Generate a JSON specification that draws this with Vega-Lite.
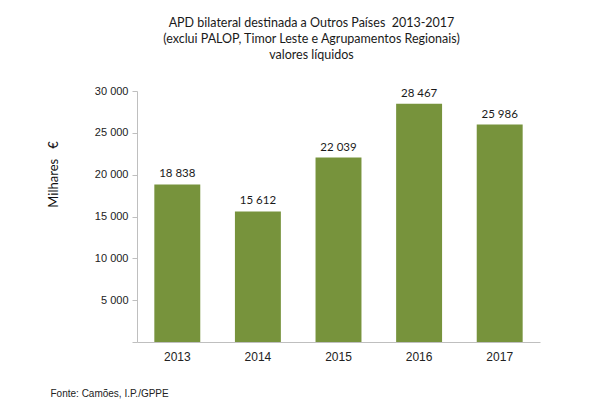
{
  "$schema": "https://vega.github.io/schema/vega-lite/v6.json",
  "width": 403,
  "height": 251,
  "autosize": "none",
  "padding": {"left": 137, "top": 91, "right": 59, "bottom": 77},
  "background": "white",
  "title": {
    "text": ["APD bilateral destinada a Outros Países\u00a0\u00a02013-2017", "(exclui PALOP, Timor Leste e Agrupamentos Regionais)", "valores líquidos"],
    "anchor": "middle",
    "dx": -27,
    "offset": 0,
    "dy": -14,
    "font": "Lato",
    "fontSize": 12.5,
    "fontWeight": "normal",
    "lineHeight": 16,
    "color": "#1a1a1a",
    "baseline": "alphabetic"
  },
  "config": {
    "view": {"stroke": null},
    "locale": {"number": {"decimal": ",", "thousands": " ", "grouping": [3], "currency": ["", " €"]}}
  },
  "data": {
    "values": [
      {"year": "2013", "value": 18838},
      {"year": "2014", "value": 15612},
      {"year": "2015", "value": 22039},
      {"year": "2016", "value": 28467},
      {"year": "2017", "value": 25986}
    ]
  },
  "encoding": {
    "x": {
      "field": "year", "type": "nominal",
      "scale": {"paddingInner": 0.43, "paddingOuter": 0.215},
      "axis": {
        "labelAngle": 0, "ticks": false, "labelPadding": 9,
        "labelFont": "Liberation Sans", "labelFontSize": 12, "labelColor": "#222",
        "domainColor": "#bfbfbf", "domainWidth": 1,
        "title": "Fonte: Camões, I.P./GPPE",
        "titleFont": "Liberation Sans", "titleFontSize": 10, "titleFontWeight": "normal",
        "titleColor": "#222", "titleAnchor": "start", "titleAlign": "left",
        "titleX": -87, "titleY": 51, "titleBaseline": "middle"
      }
    },
    "y": {
      "field": "value", "type": "quantitative",
      "scale": {"domain": [0, 30000], "nice": false},
      "axis": {
        "values": [0, 5000, 10000, 15000, 20000, 25000, 30000],
        "labelExpr": "datum.value == 0 ? '' : format(datum.value, ',')",
        "format": ",",
        "grid": false, "tickSize": 5, "tickColor": "#bfbfbf", "domainColor": "#bfbfbf",
        "labelPadding": 4,
        "labelFont": "Liberation Sans", "labelFontSize": 11, "labelColor": "#222",
        "title": "Milhares\u00a0\u00a0\u00a0€",
        "titleFont": "Lato", "titleFontSize": 13, "titleFontWeight": "normal", "titleColor": "#111",
        "titleX": -84, "titleY": 83, "titleAngle": -90, "titleAlign": "center", "titleBaseline": "middle"
      }
    }
  },
  "layer": [
    {"mark": {"type": "bar", "color": "#77933C"}},
    {
      "mark": {"type": "text", "dy": -10, "font": "Lato", "fontSize": 11.5, "color": "#1a1a1a"},
      "encoding": {"text": {"field": "value", "type": "quantitative", "format": ","}}
    }
  ]
}
